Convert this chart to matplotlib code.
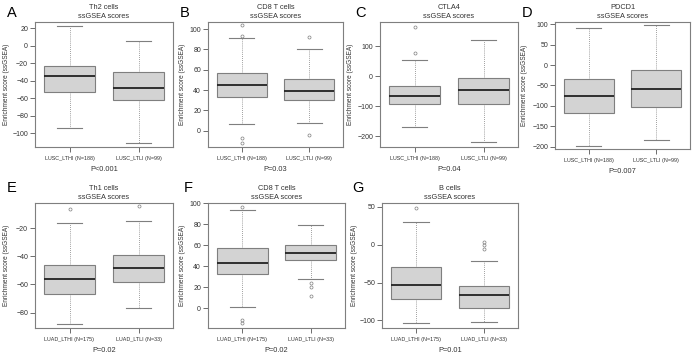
import matplotlib.pyplot as plt

plt.rcParams['font.family'] = ['Liberation Sans', 'DejaVu Sans']

# panel data
panel_letters = ["A", "B", "C", "D", "E", "F", "G"]
panel_titles = ["Th2 cells", "CD8 T cells", "CTLA4", "PDCD1", "Th1 cells", "CD8 T cells", "B cells"]
group_labels = [
    ["LUSC_LTHI (N=188)", "LUSC_LTLI (N=99)"],
    ["LUSC_LTHI (N=188)", "LUSC_LTLI (N=99)"],
    ["LUSC_LTHI (N=188)", "LUSC_LTLI (N=99)"],
    ["LUSC_LTHI (N=188)", "LUSC_LTLI (N=99)"],
    ["LUAD_LTHI (N=175)", "LUAD_LTLI (N=33)"],
    ["LUAD_LTHI (N=175)", "LUAD_LTLI (N=33)"],
    ["LUAD_LTHI (N=175)", "LUAD_LTLI (N=33)"],
]
p_values = ["P<0.001", "P=0.03", "P=0.04", "P=0.007", "P=0.02", "P=0.02", "P=0.01"]

# five-number summaries: [whislo, q1, median, q3, whishi] per group
stats_A = [[-94, -53, -35, -23, 22], [-111, -62, -48, -30, 5]]
stats_B = [[7, 33, 45, 57, 91], [8, 30, 39, 51, 80]]
stats_C = [[-168, -92, -65, -32, 55], [-220, -92, -45, -5, 120]]
stats_D = [[-197, -118, -75, -33, 90], [-183, -102, -58, -12, 98]]
stats_E = [[-88, -67, -56, -46, -16], [-77, -58, -48, -39, -15]]
stats_F = [[1, 32, 43, 57, 93], [28, 46, 52, 60, 79]]
stats_G = [[-104, -72, -53, -30, 30], [-102, -83, -66, -55, -22]]

fliers_A = [[], []]
fliers_B = [[104, 93, -7, -12], [92, -4]]
fliers_C = [[165, 77], []]
fliers_D = [[], []]
fliers_E = [[-6], [-4]]
fliers_F = [[96, -11, -14], [24, 20, 11]]
fliers_G = [[48], [3, 0, -6]]

yticks_all = [
    [-100, -80, -60, -40, -20, 0, 20],
    [0, 20, 40, 60, 80, 100],
    [-200, -100, 0, 100],
    [-200, -150, -100, -50, 0, 50, 100],
    [-80, -60, -40, -20],
    [0, 20, 40, 60, 80, 100],
    [-100, -50, 0, 50],
]
ylims = [(-116, 27), (-16, 107), (-236, 180), (-205, 105), (-91, -2), (-19, 100), (-110, 55)]

all_stats = [stats_A, stats_B, stats_C, stats_D, stats_E, stats_F, stats_G]
all_fliers = [fliers_A, fliers_B, fliers_C, fliers_D, fliers_E, fliers_F, fliers_G]

W, H = 692, 354
# axes boxes in pixels: left, right, top, bottom
boxes_px = [
    (35, 173, 22, 147), (208, 343, 22, 147), (380, 518, 22, 147), (555, 690, 22, 149),
    (35, 173, 203, 328), (208, 345, 203, 328), (382, 518, 203, 328),
]
letter_pos = [(12, 13), (185, 13), (360, 13), (527, 13), (12, 188), (188, 188), (358, 188)]
ylabel_x = [7, 183, 350, 525, 7, 183, 355]

fig = plt.figure(figsize=(W / 100, H / 100), dpi=100)
edge = '#7f7f7f'

for i in range(7):
    l, r, t, b = boxes_px[i]
    ax = fig.add_axes([l / W, (H - b) / H, (r - l) / W, (b - t) / H])
    stats = []
    for k in range(2):
        lo, q1, med, q3, hi = all_stats[i][k]
        stats.append(dict(whislo=lo, q1=q1, med=med, q3=q3, whishi=hi,
                          fliers=all_fliers[i][k], label=group_labels[i][k]))
    ax.bxp(stats, positions=[1, 2], widths=0.74, patch_artist=True,
           boxprops=dict(facecolor='#d3d3d3', edgecolor=edge, linewidth=0.8),
           medianprops=dict(color='#222222', linewidth=1.3),
           whiskerprops=dict(color=edge, linewidth=0.6, linestyle=(0, (1, 1.5))),
           capprops=dict(color=edge, linewidth=0.8),
           flierprops=dict(marker='o', markersize=2.2, markerfacecolor='none',
                           markeredgecolor=edge, markeredgewidth=0.5))
    ax.set_xlim(0.5, 2.5)
    ax.set_ylim(*ylims[i])
    ax.set_yticks(yticks_all[i])
    ax.tick_params(axis='y', labelsize=5, length=3.5, width=0.5, pad=1.5, colors='#333333')
    ax.tick_params(axis='x', labelsize=3.9, length=3.5, width=0.5, pad=3, colors='#333333')
    for s in ax.spines.values():
        s.set_color(edge)
        s.set_linewidth(0.8)
    ax.set_title(panel_titles[i] + "\nssGSEA scores", fontsize=5.3, color='#333333',
                 pad=3, linespacing=1.3)
    ax.set_xlabel(p_values[i], fontsize=5.3, color='#333333', labelpad=3.5)
    fig.text(ylabel_x[i] / W, (H - (t + b) / 2) / H, "Enrichment score (ssGSEA)",
             rotation=90, fontsize=4.7, color='#333333', ha='center', va='center')
    lx, ly = letter_pos[i]
    fig.text(lx / W, (H - ly) / H, panel_letters[i], fontsize=10.5, ha='center', va='center')

plt.savefig("out.png", dpi=100)
